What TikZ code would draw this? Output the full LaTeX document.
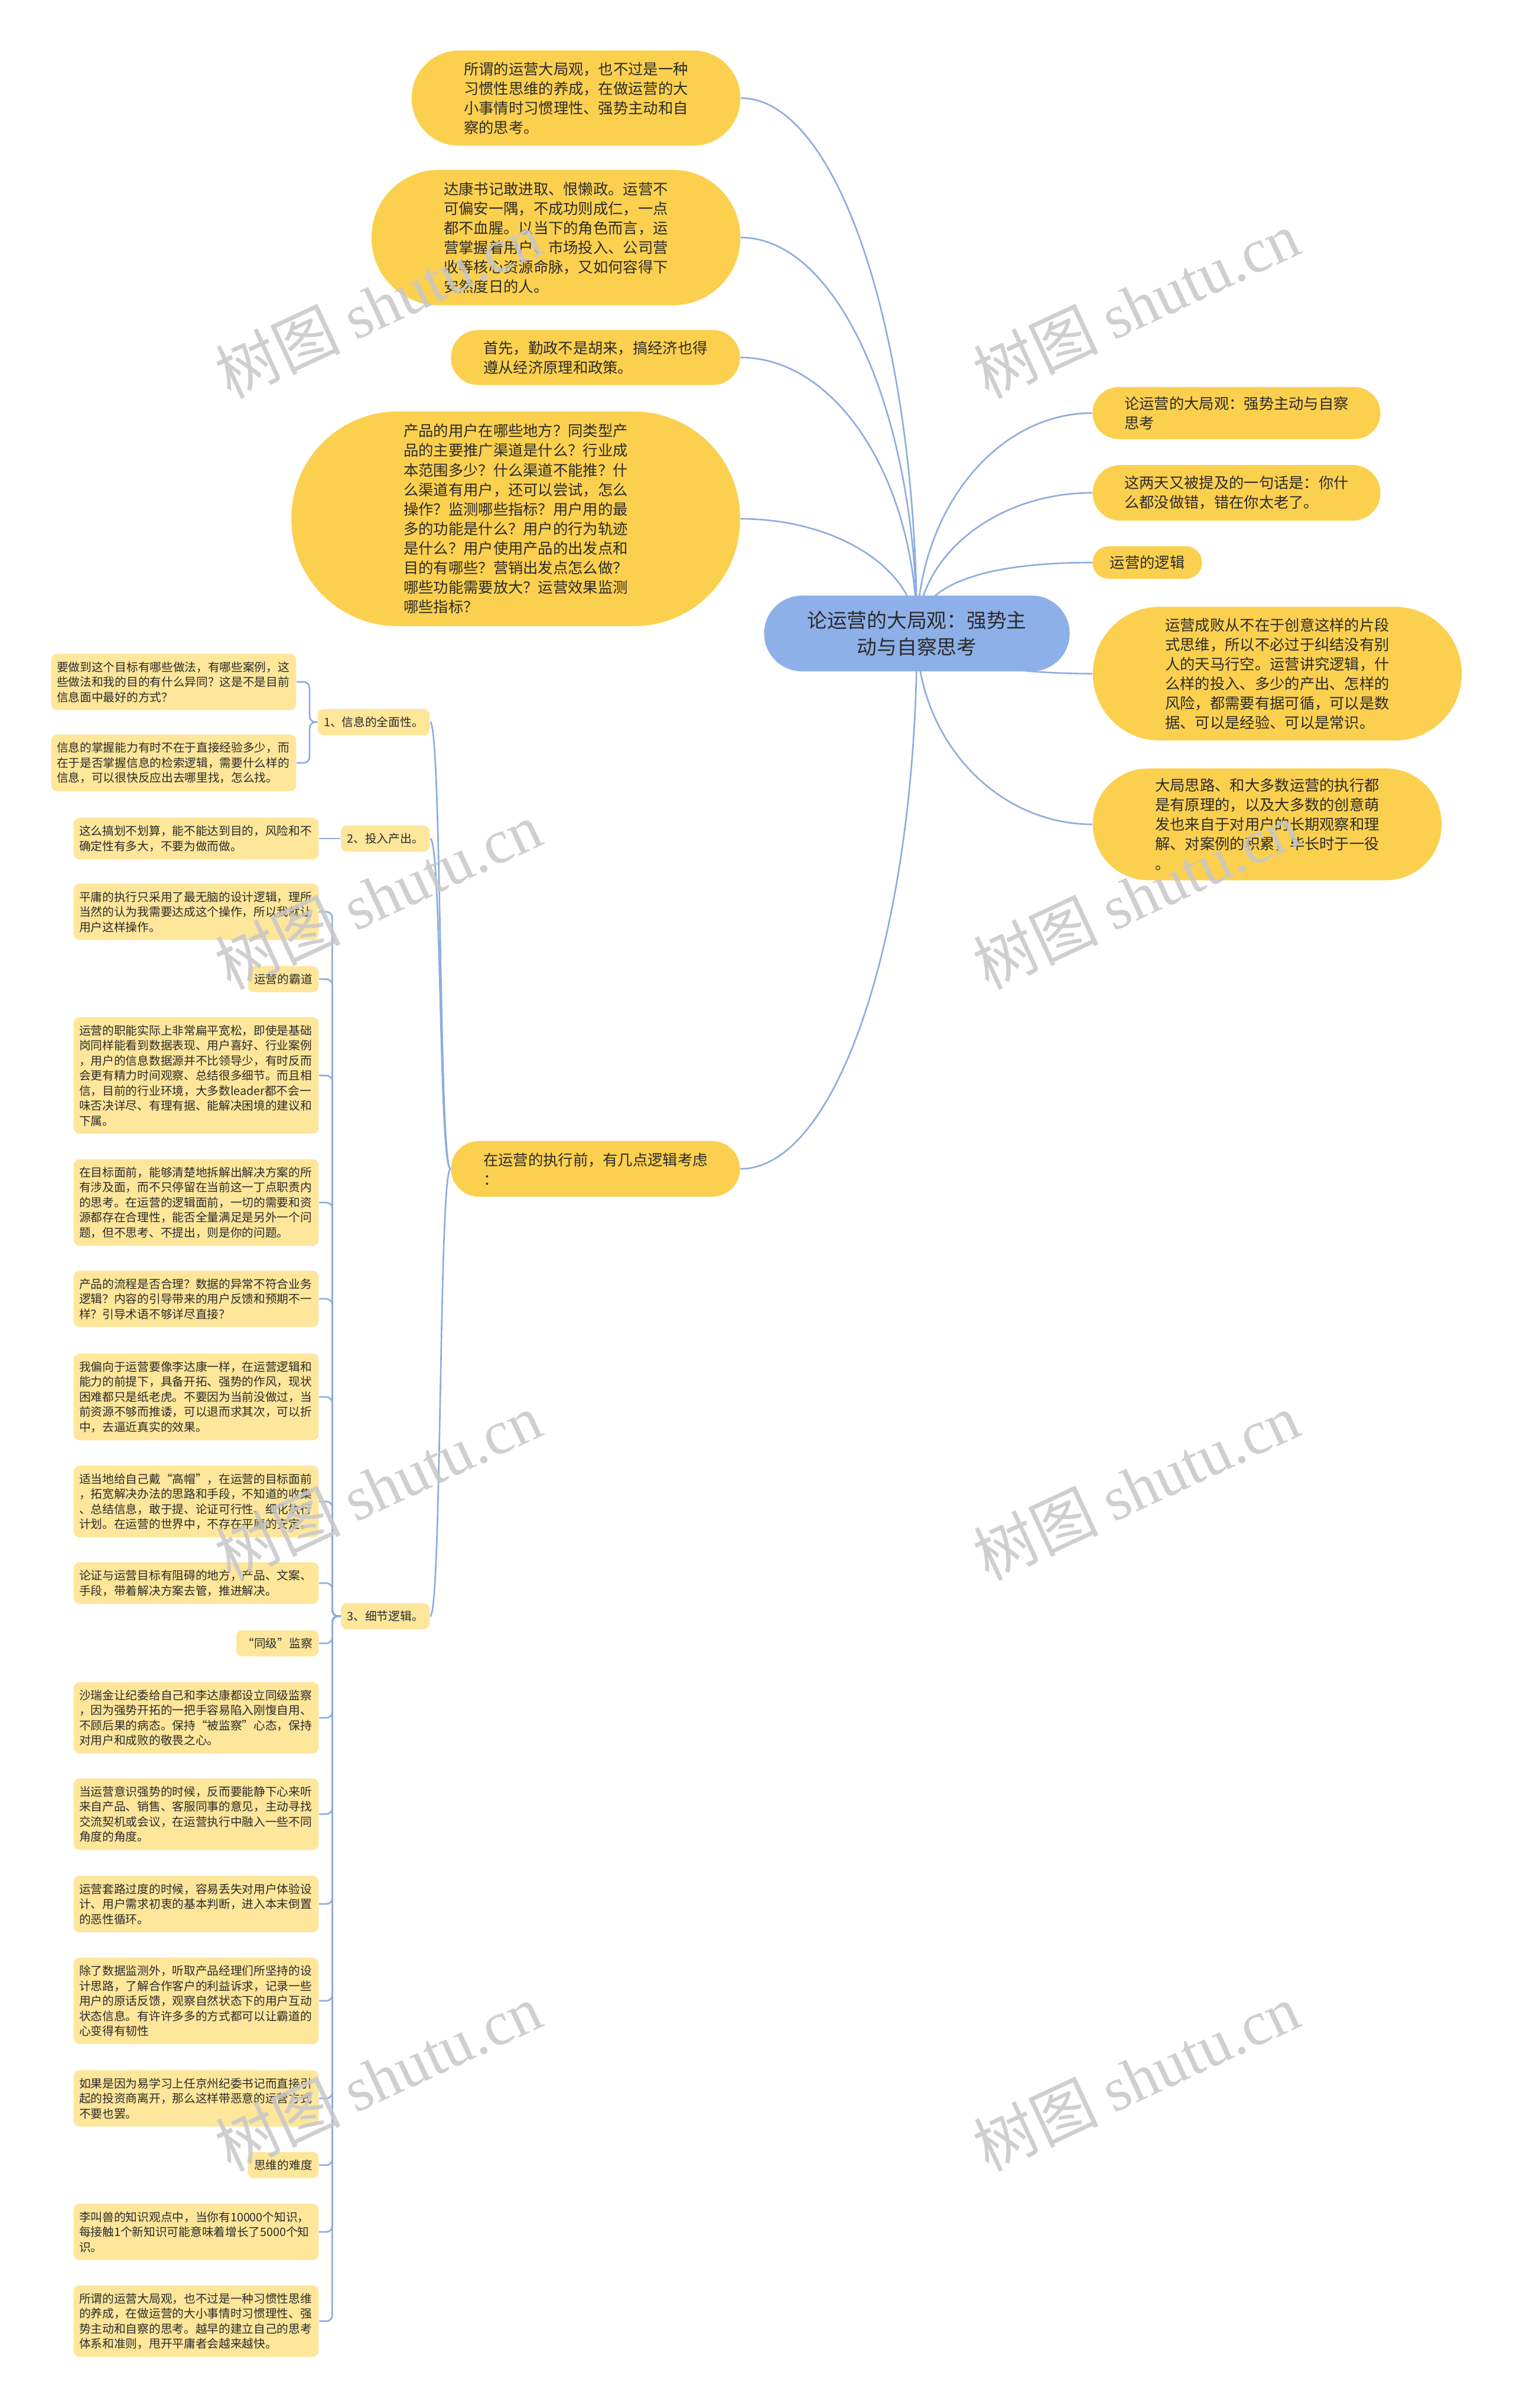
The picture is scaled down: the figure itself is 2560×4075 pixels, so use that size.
\documentclass[tikz,border=0pt]{standalone}
\usepackage{fontspec}
\setmainfont{Noto Sans CJK SC}
\newfontfamily\markfont{Liberation Serif}
\usetikzlibrary{backgrounds}
\definecolor{topiccol}{HTML}{8EB0E8}
\definecolor{ideacol}{HTML}{FCD04F}
\definecolor{leafcol}{HTML}{FEE69B}
\definecolor{linkcol}{HTML}{8DACE0}
\definecolor{textcol}{HTML}{2B2B2B}

\begin{document}
\begin{tikzpicture}[
  x=0.01cm, y=0.01cm,
  topic/.style={fill=topiccol, text=textcol, align=center, inner sep=0pt,
                font=\fontsize{9.6pt}{12.8pt}\selectfont},
  idea/.style={fill=ideacol, text=textcol, align=left, inner sep=0pt,
               font=\fontsize{7.2pt}{9.4pt}\selectfont},
  leaf/.style={fill=leafcol, text=textcol, align=left, rounded corners=0.1cm,
               inner xsep=3pt, inner ysep=3.7pt, anchor=east,
               font=\fontsize{5.6pt}{7.25pt}\selectfont},
  note/.style={leaf, text width=112.5pt, inner xsep=2.7pt},
  link/.style={draw=linkcol, line width=0.75pt},
  elbow/.style={link, rounded corners=0.1cm},
  stamp/.style={rotate=25, text=black!22, opacity=0.85, inner sep=0pt,
                font=\fontsize{30pt}{30pt}\selectfont}
]
  % centre and main branches
  \node[topic, minimum width=5.17cm, minimum height=1.28cm, rounded corners=0.64cm] (root) at (1552,-1072) {论运营的大局观：强势主\\动与自察思考};

  \node[idea, minimum width=5.56cm, minimum height=1.61cm, rounded corners=0.8cm] (habit) at (975,-166) {所谓的运营大局观，也不过是一种\\习惯性思维的养成，在做运营的大\\小事情时习惯理性、强势主动和自\\察的思考。};
  \node[idea, minimum width=6.24cm, minimum height=2.29cm, rounded corners=1.14cm] (dakang) at (941,-402) {达康书记敢进取、恨懒政。运营不\\可偏安一隅，不成功则成仁，一点\\都不血腥。以当下的角色而言，运\\营掌握着用户、市场投入、公司营\\收等核心资源命脉，又如何容得下\\安然度日的人。};
  \node[idea, minimum width=4.89cm, minimum height=0.93cm, rounded corners=0.46cm] (econ) at (1008,-605) {首先，勤政不是胡来，搞经济也得\\遵从经济原理和政策。};
  \node[idea, minimum width=7.59cm, minimum height=3.63cm, rounded corners=1.8cm] (users) at (873,-878) {产品的用户在哪些地方？同类型产\\品的主要推广渠道是什么？行业成\\本范围多少？什么渠道不能推？什\\么渠道有用户，还可以尝试，怎么\\操作？监测哪些指标？用户用的最\\多的功能是什么？用户的行为轨迹\\是什么？用户使用产品的出发点和\\目的有哪些？营销出发点怎么做？\\哪些功能需要放大？运营效果监测\\哪些指标？};

  \node[idea, minimum width=4.87cm, minimum height=0.88cm, rounded corners=0.44cm] (title) at (2093,-699) {论运营的大局观：强势主动与自察\\思考};
  \node[idea, minimum width=4.87cm, minimum height=0.94cm, rounded corners=0.47cm] (oldage) at (2093,-834) {这两天又被提及的一句话是：你什\\么都没做错，错在你太老了。};
  \node[idea, minimum width=1.85cm, minimum height=0.55cm, rounded corners=0.27cm] (logic) at (1942,-952) {运营的逻辑};
  \node[idea, minimum width=6.24cm, minimum height=2.26cm, rounded corners=1.13cm] (success) at (2162,-1140) {运营成败从不在于创意这样的片段\\式思维，所以不必过于纠结没有别\\人的天马行空。运营讲究逻辑，什\\么样的投入、多少的产出、怎样的\\风险，都需要有据可循，可以是数\\据、可以是经验、可以是常识。};
  \node[idea, minimum width=5.90cm, minimum height=1.89cm, rounded corners=0.94cm] (bigpic) at (2145,-1395) {大局思路、和大多数运营的执行都\\是有原理的，以及大多数的创意萌\\发也来自于对用户的长期观察和理\\解、对案例的积累，毕长时于一役\\。};

  \node[idea, minimum width=4.89cm, minimum height=0.94cm, rounded corners=0.47cm] (before) at (1008,-1978) {在运营的执行前，有几点逻辑考虑\\：};

  % three points before execution
  \node[leaf] (info) at (728,-1222) {1、信息的全面性。};
  \node[leaf] (cost) at (728,-1419) {2、投入产出。};
  \node[leaf] (detail) at (728,-2735) {3、细节逻辑。};

  \node[note, anchor=east] (i1) at (502,-1154) {要做到这个目标有哪些做法，有哪些案例，这\\些做法和我的目的有什么异同？这是不是目前\\信息面中最好的方式？};
  \node[note] (i2) at (502,-1291) {信息的掌握能力有时不在于直接经验多少，而\\在于是否掌握信息的检索逻辑，需要什么样的\\信息，可以很快反应出去哪里找，怎么找。};
  \node[note] (c1) at (540,-1419) {这么搞划不划算，能不能达到目的，风险和不\\确定性有多大，不要为做而做。};

  \node[note] (d1) at (540,-1543) {平庸的执行只采用了最无脑的设计逻辑，理所\\当然的认为我需要达成这个操作，所以我就让\\用户这样操作。};
  \node[leaf] (d2) at (540,-1657) {运营的霸道};
  \node[note] (d3) at (540,-1820) {运营的职能实际上非常扁平宽松，即使是基础\\岗同样能看到数据表现、用户喜好、行业案例\\，用户的信息数据源并不比领导少，有时反而\\会更有精力时间观察、总结很多细节。而且相\\信，目前的行业环境，大多数leader都不会一\\味否决详尽、有理有据、能解决困境的建议和\\下属。};
  \node[note] (d4) at (540,-2035) {在目标面前，能够清楚地拆解出解决方案的所\\有涉及面，而不只停留在当前这一丁点职责内\\的思考。在运营的逻辑面前，一切的需要和资\\源都存在合理性，能否全量满足是另外一个问\\题，但不思考、不提出，则是你的问题。};
  \node[note] (d5) at (540,-2198) {产品的流程是否合理？数据的异常不符合业务\\逻辑？内容的引导带来的用户反馈和预期不一\\样？引导术语不够详尽直接？};
  \node[note] (d6) at (540,-2364) {我偏向于运营要像李达康一样，在运营逻辑和\\能力的前提下，具备开拓、强势的作风，现状\\困难都只是纸老虎。不要因为当前没做过，当\\前资源不够而推诿，可以退而求其次，可以折\\中，去逼近真实的效果。};
  \node[note] (d7) at (540,-2541) {适当地给自己戴“高帽”，在运营的目标面前\\，拓宽解决办法的思路和手段，不知道的收集\\、总结信息，敢于提、论证可行性、细化执行\\计划。在运营的世界中，不存在平庸的安定。};
  \node[note] (d8) at (540,-2679) {论证与运营目标有阻碍的地方，产品、文案、\\手段，带着解决方案去管，推进解决。};
  \node[leaf] (d9) at (540,-2781) {“同级”监察};
  \node[note] (d10) at (540,-2907) {沙瑞金让纪委给自己和李达康都设立同级监察\\，因为强势开拓的一把手容易陷入刚愎自用、\\不顾后果的病态。保持“被监察”心态，保持\\对用户和成败的敬畏之心。};
  \node[note] (d11) at (540,-3070) {当运营意识强势的时候，反而要能静下心来听\\来自产品、销售、客服同事的意见，主动寻找\\交流契机或会议，在运营执行中融入一些不同\\角度的角度。};
  \node[note] (d12) at (540,-3222) {运营套路过度的时候，容易丢失对用户体验设\\计、用户需求初衷的基本判断，进入本末倒置\\的恶性循环。};
  \node[note] (d13) at (540,-3386) {除了数据监测外，听取产品经理们所坚持的设\\计思路，了解合作客户的利益诉求，记录一些\\用户的原话反馈，观察自然状态下的用户互动\\状态信息。有许许多多的方式都可以让霸道的\\心变得有韧性};
  \node[note] (d14) at (540,-3551) {如果是因为易学习上任京州纪委书记而直接引\\起的投资商离开，那么这样带恶意的运营方式\\不要也罢。};
  \node[leaf] (d15) at (540,-3664) {思维的难度};
  \node[note] (d16) at (540,-3777) {李叫兽的知识观点中，当你有10000个知识，\\每接触1个新知识可能意味着增长了5000个知\\识。};
  \node[note] (d17) at (540,-3928) {所谓的运营大局观，也不过是一种习惯性思维\\的养成，在做运营的大小事情时习惯理性、强\\势主动和自察的思考。越早的建立自己的思考\\体系和准则，甩开平庸者会越来越快。};

  \begin{scope}[on background layer]
    \fill[white] (0,0) rectangle (2560,-4075);
    % from the centre
    \draw[link] (root.center) to[out=90, in=0, out distance=5cm, in distance=1.65cm] (habit.east);
    \draw[link] (root.center) to[out=90, in=0, out distance=3.7cm, in distance=1.65cm] (dakang.east);
    \draw[link] (root.center) to[out=90, in=0, out distance=2.55cm, in distance=1.65cm] (econ.east);
    \draw[link] (root.center) to[out=90, in=0, out distance=1.07cm, in distance=1.65cm] (users.east);
    \draw[link] (root.center) to[out=90, in=180, out distance=2.05cm, in distance=1.64cm] (title.west);
    \draw[link] (root.center) to[out=90, in=180, out distance=1.3cm, in distance=1.64cm] (oldage.west);
    \draw[link] (root.center) to[out=90, in=180, out distance=0.9cm, in distance=1.64cm] (logic.west);
    \draw[link] (root.center) to[out=-90, in=180, out distance=0.4cm, in distance=1.64cm] (success.west);
    \draw[link] (root.center) to[out=-90, in=180, out distance=1.78cm, in distance=1.64cm] (bigpic.west);
    \draw[link] (root.center) to[out=-90, in=0, out distance=5cm, in distance=1.65cm] (before.east);
    % execution points
    \draw[link] (before.west) to[out=180, in=0, out distance=0.2cm, in distance=0.2cm] (info.east);
    \draw[link] (before.west) to[out=180, in=0, out distance=0.2cm, in distance=0.2cm] (cost.east);
    \draw[link] (before.west) to[out=180, in=0, out distance=0.2cm, in distance=0.2cm] (detail.east);
    \draw[elbow] (info.west) -- ++(-13,0) |- (i1.east);
    \draw[elbow] (info.west) -- ++(-13,0) |- (i2.east);
    \draw[link] (cost.west) -- (c1.east);
    \foreach \n in {d1,d2,d3,d4,d5,d6,d7,d8,d9,d10,d11,d12,d13,d14,d15,d16,d17}
      \draw[elbow] (detail.west) -- ++(-14,0) |- (\n.east);
  \end{scope}

  % site watermark
  \foreach \wx/\wy [count=\k] in {640/515, 1923/515, 640/1515, 1923/1515, 640/2515, 1923/2515, 640/3515, 1923/3515}
    \node[stamp] (stamp\k) at (\wx,-\wy) {树图 {\markfont shutu.cn}};
\end{tikzpicture}
\end{document}
